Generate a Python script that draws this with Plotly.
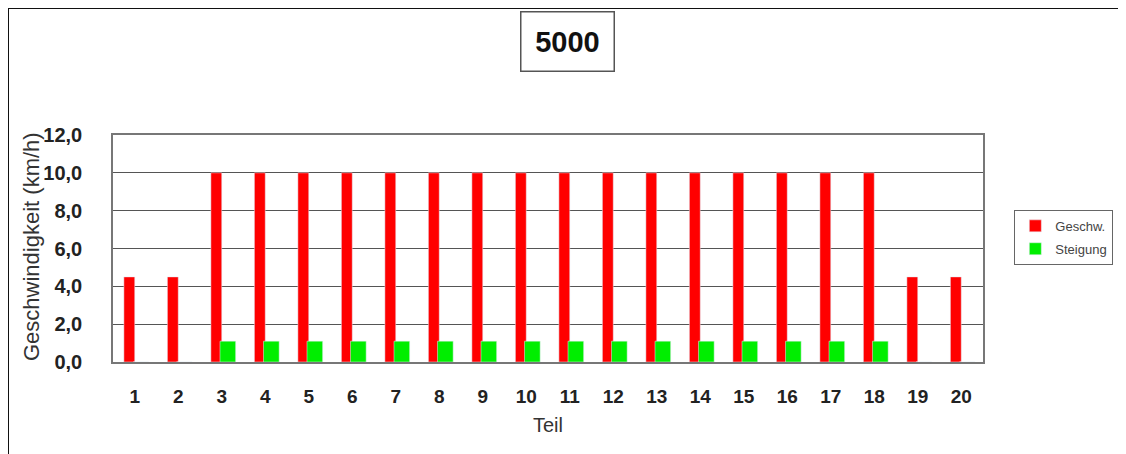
"""Bar chart: Geschwindigkeit und Steigung je Teil"""
import plotly.graph_objects as go

teil = list(range(1, 21))
geschw = [4.5, 4.5] + [10.0] * 16 + [4.5, 4.5]
steigung = [0, 0] + [1.1] * 16 + [0, 0]
y_ticks = [0, 2, 4, 6, 8, 10, 12]
y_tick_labels = ["0,0", "2,0", "4,0", "6,0", "8,0", "10,0", "12,0"]

# page body has an 8px margin, so positions are shifted by -8 px
fig = go.Figure()
fig.add_trace(go.Bar(
    x=teil, y=geschw, name="Geschw.", marker_color="#ff0000",
    width=0.25, offset=-0.25, legendgroup="a",
))
fig.add_trace(go.Bar(
    x=teil, y=steigung, name="Steigung", marker_color="#00ee00",
    width=0.36, offset=-0.04, legendgroup="b",
))

fig.update_layout(
    width=1126, height=454,
    margin=dict(l=105, r=151, t=127, b=100),
    barmode="overlay",
    paper_bgcolor="white", plot_bgcolor="white",
    font=dict(family="Arial, Liberation Sans, sans-serif", color="#222"),
    legend=dict(
        x=1.036, y=0.67, xanchor="left", yanchor="top",
        bordercolor="#666", borderwidth=1,
        font=dict(size=13, color="#444"),
        tracegroupgap=3,
    ),
    xaxis=dict(
        range=[0.5, 20.5], tickmode="array", tickvals=teil,
        tickfont=dict(size=19, color="#222", weight="bold"),
        ticklabelstandoff=16, showline=True, linecolor="#777",
        linewidth=1.5, mirror=True, showgrid=False, zeroline=False,
        title=dict(text="Teil", font=dict(size=20, color="#333"), standoff=12),
    ),
    yaxis=dict(
        range=[0, 12], tickmode="array", tickvals=y_ticks,
        ticktext=y_tick_labels,
        tickfont=dict(size=20, color="#222", weight="bold"),
        ticklabelstandoff=25,
        showline=True, linecolor="#777", linewidth=1.5, mirror=True,
        showgrid=True, gridcolor="#555", gridwidth=1, zeroline=False,
    ),
    annotations=[
        dict(
            text="<b>5000</b>", x=0.522, y=1.41, xref="paper", yref="paper",
            xanchor="center", yanchor="middle", showarrow=False,
            font=dict(size=29, color="#111"),
            bordercolor="#555", borderwidth=1.5, width=88, height=54,
            borderpad=2, bgcolor="white",
        ),
        dict(
            text="Geschwindigkeit (km/h)", textangle=-90,
            x=(31 - 113) / 870, y=(362 - 247) / 227,
            xref="paper", yref="paper", xanchor="center", yanchor="middle",
            showarrow=False, font=dict(size=22, color="#333"),
        ),
    ],
    shapes=[dict(
        type="rect", xref="paper", yref="paper",
        x0=(8 - 113) / 870, x1=(1123 - 113) / 870,
        y0=(362 - 470) / 227, y1=(362 - 8) / 227,
        line=dict(color="#111", width=2),
    )],
)

fig.write_html("out.html")
